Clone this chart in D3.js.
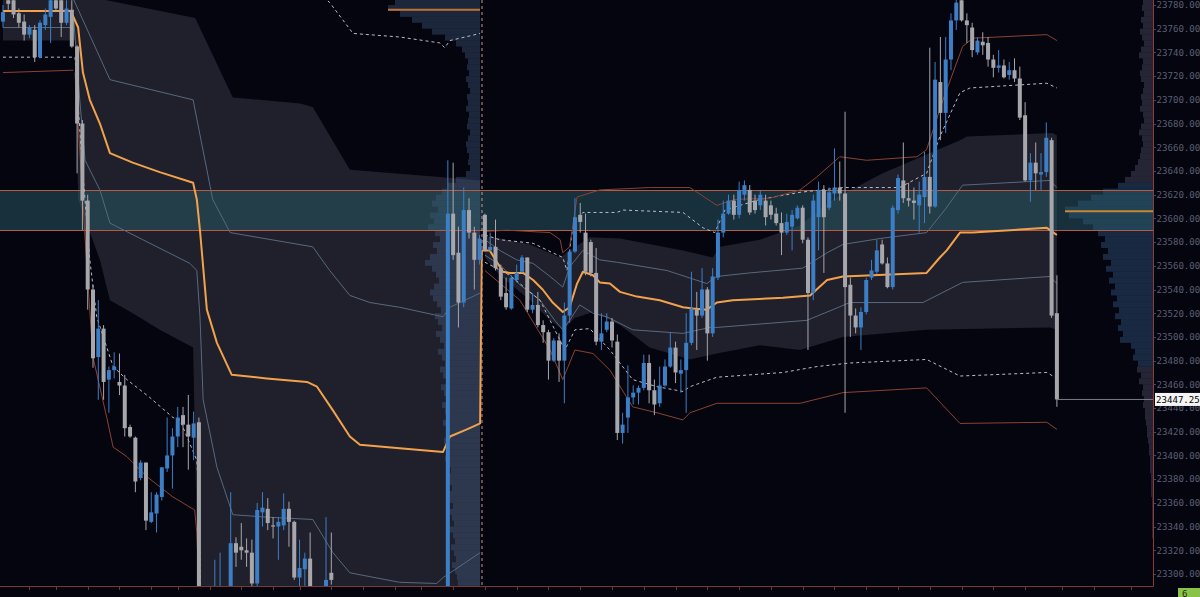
<!DOCTYPE html>
<html><head><meta charset="utf-8">
<script src="https://cdn.jsdelivr.net/npm/d3@7"></script>
<style>html,body{margin:0;padding:0;background:#050510;overflow:hidden}</style>
</head><body><svg id="c" width="1200" height="597"></svg>
<script>
// ---------- DATA ----------
const priceTicks = [23300,23320,23340,23360,23380,23400,23420,23440,23460,23480,23500,23520,23540,23560,23580,23600,23620,23640,23660,23680,23700,23720,23740,23760,23780];
const timeTicks = [5,10,16,22,28,33,39,45,51,56,62,68,74,79,85,91,97,103,109,115,121,127,133,139,145,151,157,163,169,175,181,187,193,200,206,213];
const lastPrice = 23447.25;
const sessionBreak = 90.45;
const zoneTop = 23624, zoneBottom = 23590;

// candles [open, high, low, close]
const candles = [
[23766,23780,23761,23774],[23784,23788,23776,23781],[23784,23787,23769,23772],[23773,23777,23761,23765],
[23766,23772,23750,23755],[23755,23763,23752,23761],[23759,23763,23732,23736],[23736,23767,23735,23765],
[23763,23777,23759,23772],[23770,23788,23748,23784],[23784,23788,23774,23777],[23784,23788,23753,23765],
[23765,23784,23763,23777],[23776,23784,23744,23745],[23745,23746,23638,23680],[23680,23683,23590,23615],
[23615,23620,23523,23540],[23540,23544,23474,23482],[23483,23531,23447,23507],[23507,23510,23447,23462],
[23464,23475,23436,23472],[23472,23487,23465,23475],[23462,23486,23451,23459],[23459,23468,23416,23423],
[23424,23426,23415,23416],[23415,23416,23369,23378],[23381,23396,23379,23394],[23394,23394,23337,23345],
[23344,23369,23343,23352],[23351,23369,23335,23367],[23365,23390,23362,23390],[23389,23432,23386,23400],
[23400,23423,23372,23416],[23416,23441,23407,23432],[23434,23441,23407,23426],[23426,23451,23388,23416],
[23415,23437,23396,23427],[23428,23432,23244,23278],[23278,23282,23236,23244],[23244,23278,23227,23270],
[23261,23312,23244,23278],[23270,23318,23261,23282],[23282,23286,23253,23265],[23278,23369,23274,23326],
[23326,23331,23306,23318],[23323,23343,23312,23320],[23320,23330,23306,23318],[23318,23329,23286,23292],
[23292,23360,23286,23354],[23352,23369,23340,23356],[23355,23364,23337,23343],[23341,23348,23330,23340],
[23340,23348,23312,23344],[23341,23368,23337,23355],[23355,23361,23323,23344],[23344,23345,23295,23297],
[23297,23329,23286,23305],[23304,23318,23286,23313],[23313,23335,23270,23278],[23278,23282,23244,23257],
[23257,23280,23253,23274],[23278,23348,23270,23295],[23301,23335,23291,23295],
[23286,23287,23262,23268],[23268,23280,23255,23275],[23275,23284,23258,23262],[23262,23270,23240,23246],
[23246,23262,23238,23258],[23258,23276,23250,23272],[23272,23286,23262,23266],[23266,23272,23244,23250],
[23250,23262,23235,23240],[23240,23255,23228,23252],[23252,23268,23246,23264],[23264,23275,23250,23256],
[23256,23262,23232,23238],[23238,23250,23222,23246],[23246,23266,23240,23262],[23262,23282,23256,23278],
[23278,23286,23260,23265],[23265,23274,23248,23254],[23254,23270,23244,23268],[23268,23284,23258,23262],
[23262,23272,23250,23268],
[23268,23649,23248,23604],[23604,23647,23565,23569],[23571,23593,23508,23529],[23529,23626,23525,23607],
[23607,23617,23583,23588],[23588,23593,23540,23565],[23565,23586,23561,23583],[23603,23604,23572,23573],
[23573,23588,23572,23576],[23576,23599,23556,23558],[23558,23561,23531,23534],[23537,23550,23523,23525],
[23524,23552,23523,23550],[23548,23561,23546,23554],[23555,23569,23554,23567],[23567,23567,23521,23523],
[23523,23537,23520,23527],[23527,23538,23508,23510],[23510,23514,23495,23504],[23504,23506,23464,23480],
[23480,23499,23479,23497],[23497,23503,23462,23480],[23480,23529,23444,23518],[23518,23573,23512,23572],
[23572,23617,23571,23601],[23603,23613,23588,23597],[23588,23604,23552,23555],[23580,23582,23551,23554],
[23554,23575,23493,23496],[23496,23520,23489,23503],[23506,23520,23504,23513],[23513,23516,23491,23497],
[23496,23502,23413,23419],[23419,23436,23410,23426],[23432,23476,23419,23449],[23449,23459,23443,23453],
[23453,23459,23443,23457],[23457,23485,23455,23478],[23478,23485,23444,23455],[23455,23464,23434,23443],
[23444,23475,23441,23459],[23459,23481,23458,23475],[23475,23504,23474,23491],[23491,23496,23461,23470],
[23469,23481,23453,23472],[23472,23520,23436,23495],[23495,23555,23493,23524],[23523,23538,23489,23518],
[23518,23558,23516,23540],[23540,23542,23480,23503],[23503,23558,23500,23551],[23550,23599,23548,23588],
[23588,23615,23584,23604],[23604,23620,23603,23615],[23615,23620,23599,23603],[23603,23631,23600,23624],
[23620,23632,23615,23628],[23624,23628,23603,23605],[23615,23620,23604,23607],[23611,23624,23607,23620],
[23615,23620,23594,23601],[23611,23615,23599,23603],[23604,23609,23594,23596],[23596,23605,23569,23588],
[23588,23604,23586,23597],[23593,23607,23573,23603],[23600,23611,23599,23609],[23609,23611,23579,23582],
[23582,23584,23489,23537],[23537,23620,23531,23615],[23601,23631,23573,23624],[23624,23628,23554,23601],
[23609,23626,23607,23622],[23621,23659,23615,23626],[23626,23648,23615,23621],[23621,23690,23436,23542],
[23544,23550,23500,23518],[23518,23524,23503,23508],[23508,23525,23489,23521],[23521,23550,23519,23548],
[23550,23565,23548,23556],[23555,23582,23553,23573],[23578,23582,23561,23562],[23562,23567,23541,23542],
[23542,23611,23540,23609],[23607,23637,23604,23634],[23632,23664,23613,23617],[23617,23630,23610,23615],
[23615,23626,23599,23613],[23611,23631,23588,23620],[23618,23656,23596,23635],[23635,23744,23604,23610],
[23610,23732,23609,23717],[23715,23753,23666,23689],[23689,23753,23672,23734],[23734,23773,23725,23767],
[23767,23791,23759,23782],[23784,23788,23766,23767],[23767,23773,23748,23763],[23761,23765,23736,23742],
[23740,23753,23738,23750],[23749,23757,23738,23746],[23748,23753,23728,23734],[23734,23738,23719,23727],
[23727,23742,23723,23729],[23729,23734,23718,23719],[23721,23732,23717,23725],[23725,23735,23715,23718],
[23718,23728,23683,23685],[23687,23698,23631,23632],[23632,23655,23614,23647],[23647,23664,23624,23638],
[23637,23655,23624,23639],[23639,23681,23635,23668],[23666,23668,23516,23518],[23520,23552,23441,23447.25]
];

// previous session levels [barIndex, price]
const prevVwap   = [[0,23775],[13.3,23775]];
const prevSd1Lo  = [[0,23761],[13.3,23761]];
const prevSd2Lo  = [[0,23736],[13.3,23736]];
const prevSd3Lo  = [[0,23723],[13.3,23725]];
const prevBandUp = [[0,23800],[13.6,23800]];
const prevBandLo = [[0,23750],[13.6,23750]];

// session A
const vwapA = [[13.0,23773],[14.2,23761],[15.1,23723],[16.4,23700],[18.3,23680],[20.2,23655],[24.5,23647],[29.6,23639],[35.9,23630],[36.6,23616],[37.2,23590],[38.5,23523],[40.4,23495],[43.2,23468],[49.8,23465],[57.4,23462],[59.3,23458],[62.3,23438],[65.5,23416],[67.4,23409],[74.9,23406],[83.1,23403],[84.4,23416],[87.6,23422],[90.1,23427],[90.4,23573]];
const sd1UpA = [[13.0,23788],[20.2,23717],[35.9,23700],[39.6,23616],[42.9,23588],[58.5,23576],[61.7,23556],[65.5,23535],[69.3,23529],[74.9,23525],[83.1,23517],[84.4,23525],[90.1,23537]];
const sd1LoA = [[13.3,23772],[14.5,23700],[15.5,23649],[18.3,23624],[20.2,23596],[26.4,23582],[35.3,23562],[36.6,23556],[37.2,23517],[37.8,23447],[40.4,23390],[43.4,23350],[49.8,23348],[58.5,23346],[62.3,23318],[65.5,23301],[74.9,23293],[81.9,23292],[83.1,23297],[90.1,23318]];
const sd2UpA = [[58.0,23797],[61.7,23782],[66.1,23756],[74.9,23753],[82.5,23748],[83.4,23744],[84.4,23750],[90.1,23756]];
const sd2LoA = [[13.6,23736],[14.5,23675],[14.9,23649],[16.4,23565],[17.7,23517],[20.8,23475],[23.4,23464],[27.7,23449],[32.1,23432],[33.4,23430],[36.6,23396],[37.0,23362],[37.4,23261]];
const sd3LoA = [[13.6,23723],[14.5,23658],[16.0,23548],[17.0,23483],[19.6,23432],[20.8,23407],[23.4,23399],[24.5,23394],[27.2,23382],[32.1,23365],[36.2,23354],[36.6,23335],[37.2,23261]];
const bandUpA = [[13.6,23800],[19.6,23784],[36.3,23769],[43.4,23702],[56.1,23697],[58.5,23694],[65.5,23641],[82.5,23635],[90.1,23632]];
const bandLoA = [[13.6,23750],[14.2,23616],[18.3,23565],[20.2,23531],[24.5,23520],[29.6,23506],[35.9,23491],[36.8,23290],[37.2,23200],[90.1,23200]];

// session B
const vwapB = [[90.4,23573],[91.9,23573],[94.4,23555],[95.7,23554],[98.2,23554],[100.1,23548],[101.9,23540],[103.8,23529],[105.7,23521],[107.0,23525],[108.4,23545],[109.5,23555],[111.4,23552],[112.7,23546],[114.6,23545],[116.5,23538],[119.7,23534],[124.0,23531],[128.4,23525],[130.3,23524],[132.9,23523],[134.8,23529],[137.8,23531],[147.3,23533],[152.4,23535],[155.6,23548],[158.6,23551],[174.4,23554],[176.9,23567],[178.2,23573],[180.7,23588],[183.1,23588],[197.1,23592],[199.0,23586]];
const sd1UpB = [[91.0,23582],[93.8,23573],[97.0,23565],[100.1,23562],[103.3,23551],[105.7,23542],[107.0,23559],[109.5,23573],[112.7,23565],[115.9,23563],[125.4,23556],[132.9,23545],[134.8,23551],[141.0,23554],[151.0,23558],[155.6,23571],[158.6,23578],[165.6,23583],[174.4,23588],[177.8,23607],[181.2,23628],[197.7,23632],[199.0,23626]];
const sd1LoB = [[91.0,23569],[93.8,23561],[97.6,23544],[101.4,23531],[104.2,23514],[105.7,23506],[107.0,23514],[108.9,23527],[111.4,23520],[114.0,23517],[118.9,23506],[128.4,23503],[133.5,23508],[134.8,23508],[151.8,23514],[156.7,23523],[159.9,23529],[173.7,23529],[181.2,23546],[197.7,23551],[199.0,23545]];
const sd2UpB = [[91.0,23586],[93.8,23582],[100.1,23579],[103.8,23571],[105.7,23567],[106.5,23556],[107.6,23593],[109.5,23605],[115.9,23605],[117.1,23607],[128.4,23605],[132.2,23592],[134.4,23588],[136.3,23607],[142.9,23616],[150.5,23622],[158.6,23626],[169.3,23626],[174.4,23638],[176.9,23669],[180.7,23706],[182.6,23710],[197.1,23714],[199.0,23710]];
const sd2LoB = [[91.0,23563],[95.7,23552],[101.4,23531],[104.2,23506],[106.1,23489],[108.0,23506],[110.8,23507],[114.6,23489],[118.9,23464],[123.5,23458],[128.4,23454],[129.7,23458],[134.8,23466],[147.3,23470],[153.7,23475],[159.9,23478],[174.4,23481],[180.7,23467],[197.1,23470],[199.0,23465]];
const sd3UpB = [[91.0,23589],[95.2,23590],[103.3,23588],[105.2,23582],[105.7,23571],[107.0,23576],[108.4,23618],[112.7,23624],[122.1,23626],[129.7,23626],[134.8,23611],[138.2,23616],[144.8,23617],[150.5,23624],[153.7,23635],[158.0,23652],[163.1,23649],[172.6,23652],[174.4,23658],[177.5,23700],[181.2,23745],[183.1,23752],[197.1,23755],[199.0,23750]];
const sd3LoB = [[91.0,23556],[97.6,23531],[103.3,23489],[105.7,23464],[108.0,23489],[111.4,23486],[114.6,23472],[118.9,23441],[123.5,23436],[128.4,23430],[129.7,23436],[134.8,23444],[150.5,23444],[158.6,23453],[174.4,23457],[180.7,23427],[197.1,23428],[199.0,23422]];
const bandUpB = [[91.0,23585],[93.8,23583],[99.5,23578],[105.2,23567],[107.0,23573],[110.8,23584],[116.5,23583],[128.4,23573],[134.0,23567],[135.4,23576],[142.9,23582],[150.5,23594],[156.7,23616],[166.1,23638],[180.7,23666],[182.0,23669],[198.2,23672],[199.0,23670]];
const bandLoB = [[91.0,23567],[93.8,23552],[99.5,23531],[103.3,23514],[105.7,23506],[108.0,23516],[111.4,23521],[116.5,23510],[122.1,23491],[129.7,23481],[134.8,23486],[142.9,23493],[150.5,23489],[158.6,23500],[174.4,23506],[197.7,23508],[199.0,23506]];

// volume profiles: bins of 5 points from profileTop downward
const profileTop = 23785, profileStep = 5;
const leftProfile = [85,92,80,68,58,48,35,24,18,15,
 12,13,11,14,12,10,13,12,14,11,12,13,10,12,14,13,11,12,10,14,
 24,32,38,
 44,48,42,50,46,52,45,40,47,43,50,55,48,44,41,46,50,47,
 43,39,45,42,38,44,40,36,42,38,35,40,37,33,39,36,34,38,35,32,37,34,30,36,33,31,35,32,29,34,31,28,33,30,27,31,28,26,30,27,25,29,26,24,28,25,23,22];
const rightProfile = [10,11,9,12,10,13,11,9,12,14,10,11,13,12,9,10,12,11,13,10,9,12,14,11,10,12,13,15,18,22,
 28,35,50,62,75,88,84,70,60,
 55,48,52,45,50,42,47,40,44,38,42,36,40,34,38,32,35,30,33,
 22,18,20,15,16,12,14,10,11,9,10,8,8,7,6,6,5,4,
 4,3,3,3,2,2,2,2,1,1,1,1,1,1,1,0,0,0,0,0,0,0,0];
const leftPoc = 23776, rightPoc = 23606;
const rightValueArea = [23632, 23480]; // price range coloured blue

// ---------- DRAW ----------
const W = 1200, H = 597, plotR = 1153, plotB = 586;
const x = d3.scaleLinear().domain([0, candles.length - 1]).range([2.96, 1056.9]);
const y = d3.scaleLinear().domain([23300, 23780]).range([574, 5]);
const vol = d3.scaleLinear().domain([0, 100]).range([0, 100]);

const svg = d3.select('#c');
svg.append('rect').attr('width', W).attr('height', H).attr('fill', '#050510');
svg.append('defs').append('clipPath').attr('id', 'clip')
  .append('rect').attr('x', 0).attr('y', 0).attr('width', plotR).attr('height', plotB);
const g = svg.append('g').attr('clip-path', 'url(#clip)');

function band(up, lo) {
  const pts = up.map(d => [x(d[0]), y(d[1])]).concat(lo.slice().reverse().map(d => [x(d[0]), y(d[1])]));
  return 'M' + pts.join('L') + 'Z';
}
[[prevBandUp, prevBandLo], [bandUpA, bandLoA], [bandUpB, bandLoB]].forEach(([u, l]) =>
  g.append('path').attr('d', band(u, l)).attr('fill', '#1f202b'));

// profiles
const leftAnchor = x(sessionBreak) - 2;
g.append('g').selectAll('rect').data(leftProfile).join('rect')
  .attr('x', d => leftAnchor - vol(d))
  .attr('y', (d, j) => y(profileTop - profileStep * j))
  .attr('width', d => vol(d))
  .attr('height', (d, j) => y(profileTop - profileStep * (j + 1)) - y(profileTop - profileStep * j))
  .attr('fill', 'rgba(72,102,142,0.35)');
g.append('g').selectAll('rect').data(rightProfile).join('rect')
  .attr('x', d => plotR - vol(d))
  .attr('y', (d, j) => y(profileTop - profileStep * j))
  .attr('width', d => vol(d))
  .attr('height', (d, j) => y(profileTop - profileStep * (j + 1)) - y(profileTop - profileStep * j))
  .attr('fill', (d, j) => {
    const p = profileTop - profileStep * j;
    return (p <= rightValueArea[0] && p >= rightValueArea[1]) ? 'rgba(60,100,150,0.38)' : 'rgba(70,70,92,0.5)';
  });

// zone
g.append('rect').attr('x', 0).attr('y', y(zoneTop)).attr('width', plotR)
  .attr('height', y(zoneBottom) - y(zoneTop)).attr('fill', 'rgba(42,92,104,0.5)');
[zoneTop, zoneBottom].forEach(p => g.append('line').attr('x1', 0).attr('x2', plotR)
  .attr('y1', Math.round(y(p)) + 0.5).attr('y2', Math.round(y(p)) + 0.5)
  .attr('stroke', '#b65a44').attr('stroke-width', 1));

// lines
const line = d3.line().x(d => x(d[0])).y(d => y(d[1]));
function draw(data, color, w, dash) {
  const p = g.append('path').attr('d', line(data)).attr('fill', 'none')
    .attr('stroke', color).attr('stroke-width', w).attr('stroke-linejoin', 'round');
  if (dash) p.attr('stroke-dasharray', dash);
}
[prevSd1Lo, sd1UpA, sd1LoA, sd1UpB, sd1LoB].forEach(d => draw(d, '#58687f', 1));
[prevSd2Lo, sd2UpA, sd2LoA, sd2UpB, sd2LoB].forEach(d => draw(d, '#b9bdc8', 1, '3,3'));
[prevSd3Lo, sd3LoA, sd3UpB, sd3LoB].forEach(d => draw(d, '#8a4230', 1));
[prevVwap, vwapA, vwapB].forEach(d => draw(d, '#f2a24c', 2));

// POC lines
g.append('line').attr('x1', leftAnchor - vol(d3.max(leftProfile))).attr('x2', leftAnchor)
  .attr('y1', y(leftPoc)).attr('y2', y(leftPoc)).attr('stroke', '#c07432').attr('stroke-width', 2);
g.append('line').attr('x1', plotR - vol(d3.max(rightProfile))).attr('x2', plotR)
  .attr('y1', y(rightPoc)).attr('y2', y(rightPoc)).attr('stroke', '#c28a34').attr('stroke-width', 2);

// session separator
g.append('line').attr('x1', x(sessionBreak)).attr('x2', x(sessionBreak)).attr('y1', 0).attr('y2', plotB)
  .attr('stroke', '#c99595').attr('stroke-width', 1).attr('stroke-dasharray', '3,3');

// candles
const cg = g.append('g');
candles.forEach((c, i) => {
  const [o, h, l, cl] = c;
  const up = cl >= o;
  const col = up ? '#3d7fc6' : '#a6a6ab';
  const cx = x(i);
  cg.append('line').attr('x1', cx).attr('x2', cx).attr('y1', y(h)).attr('y2', y(l))
    .attr('stroke', col).attr('stroke-width', 1);
  const t = y(Math.max(o, cl)), b = y(Math.min(o, cl));
  cg.append('rect').attr('x', cx - 2).attr('y', t).attr('width', 4).attr('height', Math.max(1, b - t)).attr('fill', col);
});

// last price line
g.append('line').attr('x1', x(candles.length - 1)).attr('x2', plotR)
  .attr('y1', y(lastPrice)).attr('y2', y(lastPrice)).attr('stroke', '#7d7d85').attr('stroke-width', 1);

// borders
svg.append('line').attr('x1', plotR + 0.5).attr('x2', plotR + 0.5).attr('y1', 0).attr('y2', plotB + 0.5)
  .attr('stroke', '#8a3c3c').attr('stroke-width', 1);
svg.append('line').attr('x1', 0).attr('x2', plotR + 0.5).attr('y1', plotB + 0.5).attr('y2', plotB + 0.5)
  .attr('stroke', '#7a3535').attr('stroke-width', 1);

// price axis
const axFont = 'DejaVu Sans Mono, monospace', axSize = 9.1;
const ax = svg.append('g');
priceTicks.forEach(t => {
  ax.append('line').attr('x1', plotR + 1).attr('x2', plotR + 3).attr('y1', Math.round(y(t)) + 0.5).attr('y2', Math.round(y(t)) + 0.5)
    .attr('stroke', '#6a3838');
  ax.append('text').attr('x', plotR + 3.5).attr('y', y(t) + 3.3).text(t.toFixed(2))
    .attr('fill', '#5a5f70').attr('font-family', axFont).attr('font-size', axSize);
});
// time ticks
timeTicks.forEach(t => svg.append('line').attr('x1', Math.round(x(t)) + 0.5).attr('x2', Math.round(x(t)) + 0.5)
  .attr('y1', plotB + 1).attr('y2', plotB + 4).attr('stroke', '#6a3838'));

// last price tag
svg.append('rect').attr('x', plotR + 2).attr('y', y(lastPrice) - 6.5).attr('width', 45).attr('height', 13).attr('fill', '#f4f4f4');
svg.append('text').attr('x', plotR + 3).attr('y', y(lastPrice) + 3.3).text(lastPrice.toFixed(2))
  .attr('fill', '#000').attr('font-family', axFont).attr('font-size', axSize);

// time tag
svg.append('rect').attr('x', 1178).attr('y', 588).attr('width', 22).attr('height', 9).attr('fill', '#8bc34a');
svg.append('text').attr('x', 1182).attr('y', 596.5).text('6').attr('fill', '#1b2a10')
  .attr('font-family', axFont).attr('font-size', 9);
</script></body></html>
